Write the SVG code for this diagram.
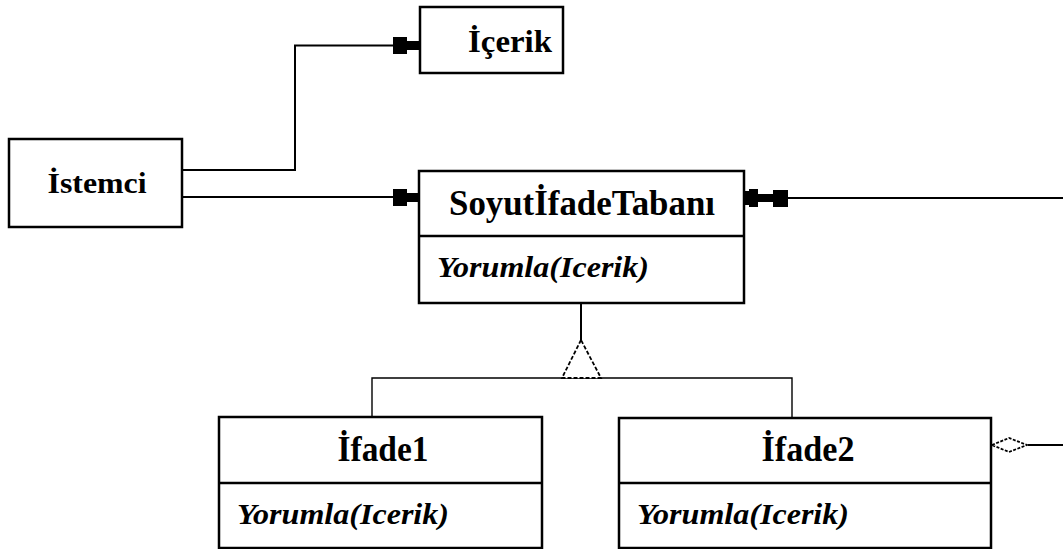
<svg xmlns="http://www.w3.org/2000/svg" width="1063" height="549" viewBox="0 0 1063 549">
  <style>
    .box { fill: #fff; stroke: #000; stroke-width: 2.5; }
    .sep { stroke: #000; stroke-width: 2.5; }
    .wire { fill: none; stroke: #000; stroke-width: 2; }
    .thin { fill: none; stroke: #000; stroke-width: 1.4; }
    .solid { fill: #000; stroke: none; }
    .name { font-family: "Liberation Serif", "Times New Roman", serif; font-weight: bold; fill: #000; text-anchor: middle; }
    .op { font-family: "Liberation Serif", "Times New Roman", serif; font-weight: bold; font-style: italic; font-size: 29px; fill: #000; }
  </style>

  <rect width="1063" height="549" fill="#fff"/>

  <!-- connectors -->
  <g id="connectors">
    <!-- client to context -->
    <polyline class="wire" points="182,170 295,170 295,45.5 395,45.5"/>
    <path class="solid" d="M393,37 H407 V41 H420 V50 H407 V54 H393 Z"/>
    <!-- client to abstract expression -->
    <line class="wire" x1="182" y1="197" x2="395" y2="197"/>
    <path class="solid" d="M393,189 H407 V193 H420 V202 H407 V206 H393 Z"/>
    <!-- composite child link -->
    <line class="wire" x1="786" y1="198" x2="1063" y2="198"/>
    <path class="solid" d="M745,191 H749 V189 H758 V194 H773 V190 H788 V207 H773 V202 H758 V207 H749 V205 H745 Z"/>
    <!-- generalization -->
    <line class="wire" x1="581" y1="303" x2="581" y2="340"/>
    <polyline class="thin" points="372,417 372,378 792,378 792,418"/>
    <polygon points="581,340 562,378 601,378" fill="#fff" stroke="#000" stroke-width="1.8" stroke-dasharray="4 2"/>
    <!-- aggregation -->
    <line class="wire" x1="1028" y1="445" x2="1063" y2="445"/>
    <polygon points="992,445 1009,438 1027,445 1009,452" fill="#fff" stroke="#000" stroke-width="1.8" stroke-dasharray="3 1.5"/>
  </g>

  <g id="istemci">
    <rect class="box" x="9" y="139" width="173" height="88"/>
    <text class="name" x="97" y="193" font-size="30" textLength="99" lengthAdjust="spacingAndGlyphs">İstemci</text>
  </g>

  <g id="icerik">
    <rect class="box" x="420" y="7" width="143" height="66"/>
    <text class="name" x="510" y="52" font-size="31" textLength="84" lengthAdjust="spacingAndGlyphs">İçerik</text>
  </g>

  <g id="soyut-ifade-tabani">
    <rect class="box" x="419" y="171" width="325" height="132"/>
    <line class="sep" x1="419" y1="236" x2="744" y2="236"/>
    <text class="name" x="582" y="215" font-size="35" textLength="266" lengthAdjust="spacingAndGlyphs">SoyutİfadeTabanı</text>
    <text class="op" x="437" y="277" textLength="212" lengthAdjust="spacingAndGlyphs">Yorumla(Icerik)</text>
  </g>

  <g id="ifade1">
    <rect class="box" x="219" y="417" width="323" height="131"/>
    <line class="sep" x1="219" y1="483" x2="542" y2="483"/>
    <text class="name" x="383" y="461" font-size="35" textLength="91" lengthAdjust="spacingAndGlyphs">İfade1</text>
    <text class="op" x="237" y="524" textLength="212" lengthAdjust="spacingAndGlyphs">Yorumla(Icerik)</text>
  </g>

  <g id="ifade2">
    <rect class="box" x="619" y="418" width="372" height="130"/>
    <line class="sep" x1="619" y1="483" x2="991" y2="483"/>
    <text class="name" x="808" y="461" font-size="35" textLength="93" lengthAdjust="spacingAndGlyphs">İfade2</text>
    <text class="op" x="637" y="524" textLength="212" lengthAdjust="spacingAndGlyphs">Yorumla(Icerik)</text>
  </g>
</svg>
